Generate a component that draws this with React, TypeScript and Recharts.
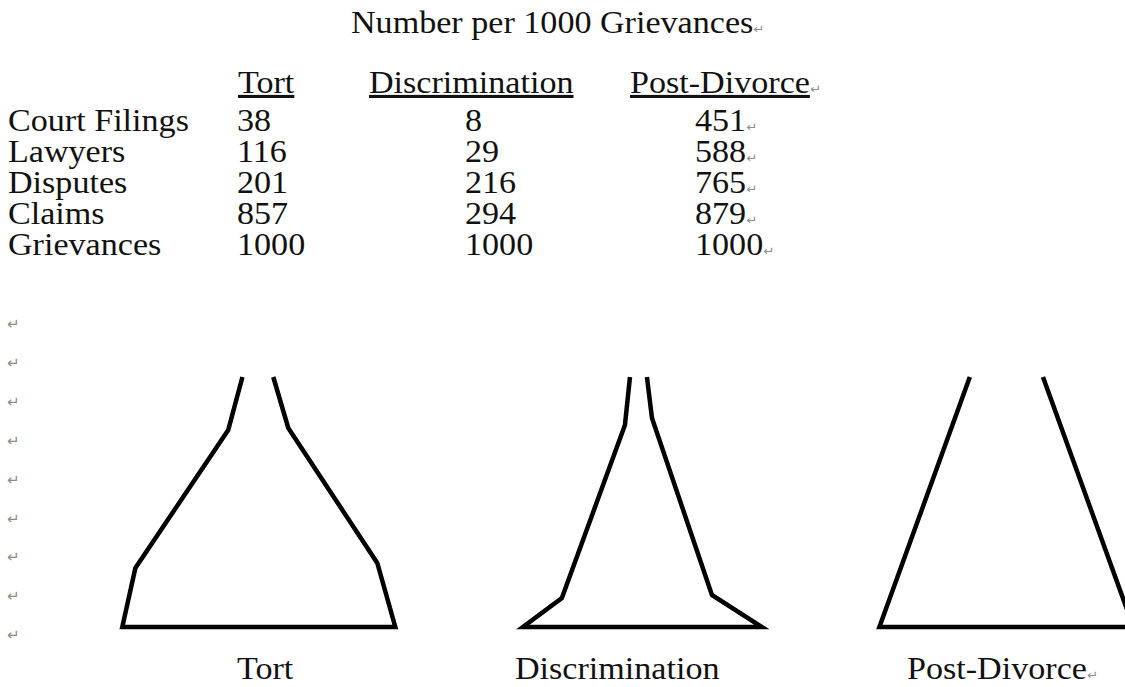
import React from "react";
import { LineChart, Line, XAxis, YAxis } from "recharts";

const title = "Number per 1000 Grievances";
const categories = ["Tort", "Discrimination", "Post-Divorce"];
const stages = ["Court Filings", "Lawyers", "Disputes", "Claims", "Grievances"];
const tortValues = [38, 116, 201, 857, 1000];
const discriminationValues = [8, 29, 216, 294, 1000];
const postDivorceValues = [451, 588, 765, 879, 1000];

// outlines as drawn: x = offset from centre (per 1000 of base width), rise = height above the base
const tortOutline = [
  { x: -60, rise: 250 },
  { x: -112, rise: 197 },
  { x: -452, rise: 59 },
  { x: -500, rise: 0 },
  { x: 500, rise: 0 },
  { x: 434, rise: 64 },
  { x: 108, rise: 199 },
  { x: 53, rise: 250 },
];
const discriminationOutline = [
  { x: -52, rise: 250 },
  { x: -73, rise: 202 },
  { x: -337, rise: 29 },
  { x: -500, rise: 0 },
  { x: 500, rise: 0 },
  { x: 291, rise: 32 },
  { x: 40, rise: 209 },
  { x: 19, rise: 250 },
];
const postDivorceOutline = [
  { x: -144, rise: 250 },
  { x: -500, rise: 0 },
  { x: 500, rise: 0 },
  { x: 144, rise: 250 },
];

const FONT = "'Liberation Serif', 'Times New Roman', serif";
const MARK = "\u21B5";

type Pt = { x: number; rise: number };

const Funnel = ({ outline, center, baseWidth }: { outline: Pt[]; center: number; baseWidth: number }) => {
  const w = (1200 * baseWidth) / 1000;
  return (
    <div style={{ position: "absolute", left: center - w / 2, top: 367 }}>
      <LineChart width={w} height={270} data={outline} margin={{ top: 0, right: 0, bottom: 0, left: 0 }}>
        <XAxis type="number" dataKey="x" domain={[-600, 600]} hide />
        <YAxis type="number" domain={[-10, 260]} hide />
        <Line
          dataKey="rise"
          stroke="#000"
          strokeWidth={4.5}
          strokeLinejoin="miter"
          dot={false}
          activeDot={false}
          isAnimationActive={false}
        />
      </LineChart>
    </div>
  );
};

const T = ({ x, y, children }: { x: number; y: number; children: React.ReactNode }) => (
  <text transform={`translate(${x},${y}) scale(1.1,1)`} fontFamily={FONT} fontSize={31} fill="#111">
    {children}
  </text>
);

const Mark = () => (
  <tspan fontFamily="'DejaVu Sans', sans-serif" fontSize={12} fill="#8c8c8c">
    {MARK}
  </tspan>
);

export default function App() {
  const rowY = (i: number) => 130.5 + i * 31.2;
  const cols = [237, 465, 695];
  const series = [tortValues, discriminationValues, postDivorceValues];
  const headerX = [238, 369, 630];
  const labelX = [237, 515, 907];
  return (
    <div style={{ position: "fixed", left: 0, top: 0, width: 1125, height: 687, overflow: "hidden", background: "#fff" }}>
      <Funnel outline={tortOutline} center={258.5} baseWidth={273} />
      <Funnel outline={discriminationOutline} center={642.5} baseWidth={239} />
      <Funnel outline={postDivorceOutline} center={1006} baseWidth={254} />
      <svg width={1125} height={687} style={{ position: "absolute", left: 0, top: 0 }}>
        <T x={351} y={33}>
          {title}
          <Mark />
        </T>
        {categories.map((c, j) => (
          <T key={c} x={headerX[j]} y={93}>
            <tspan textDecoration="underline">{c}</tspan>
            {j === 2 ? <Mark /> : null}
          </T>
        ))}
        {stages.map((s, i) => (
          <g key={s}>
            <T x={8} y={rowY(i)}>{s}</T>
            {series.map((vals, j) => (
              <T key={j} x={cols[j]} y={rowY(i)}>
                {vals[i]}
                {j === 2 ? <Mark /> : null}
              </T>
            ))}
          </g>
        ))}
        {Array.from({ length: 9 }).map((_, k) => (
          <text
            key={k}
            x={7}
            y={329 + k * 38.9}
            fontFamily="'DejaVu Sans', sans-serif"
            fontSize={15}
            fill="#8c8c8c"
          >
            {MARK}
          </text>
        ))}
        {categories.map((c, j) => (
          <T key={c} x={labelX[j]} y={679}>
            {c}
            {j === 2 ? <Mark /> : null}
          </T>
        ))}
      </svg>
    </div>
  );
}
